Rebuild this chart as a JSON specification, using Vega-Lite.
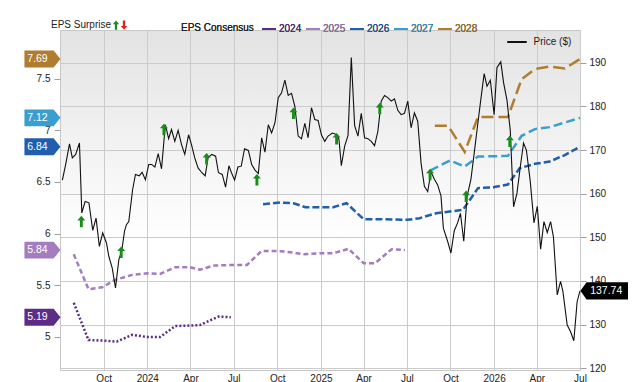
{
  "$schema": "https://vega.github.io/schema/vega-lite/v6.json",
  "width": 520,
  "height": 340,
  "autosize": {"type": "none"},
  "padding": {"left": 60, "top": 30, "right": 60, "bottom": 12},
  "background": "white",
  "config": {
    "font": "Liberation Sans",
    "view": {
      "stroke": "#c8c8c8",
      "strokeWidth": 1,
      "fill": {"gradient": "linear", "x1": 0, "y1": 0, "x2": 0, "y2": 1,
        "stops": [{"offset": 0, "color": "#e3e3e3"}, {"offset": 0.62, "color": "#ffffff"}, {"offset": 1, "color": "#ffffff"}]}
    },
    "axis": {"labelFont": "Liberation Sans", "labelFontSize": 10, "labelColor": "#222222", "title": null},
    "legend": {"labelFont": "Liberation Sans", "titleFont": "Liberation Sans"}
  },
  "datasets": {
    "price": [
      {"date": "2023-07-06", "price": 163.1}, {"date": "2023-07-13", "price": 166.7}, {"date": "2023-07-21", "price": 171.4},
      {"date": "2023-07-27", "price": 168.2}, {"date": "2023-08-03", "price": 169.0}, {"date": "2023-08-11", "price": 171.6},
      {"date": "2023-08-16", "price": 155.6}, {"date": "2023-08-23", "price": 158.2}, {"date": "2023-08-31", "price": 157.9},
      {"date": "2023-09-08", "price": 151.6}, {"date": "2023-09-15", "price": 154.4}, {"date": "2023-09-22", "price": 147.9},
      {"date": "2023-09-29", "price": 151.0}, {"date": "2023-10-07", "price": 148.7}, {"date": "2023-10-12", "price": 145.6},
      {"date": "2023-10-19", "price": 143.0}, {"date": "2023-10-26", "price": 138.4}, {"date": "2023-11-02", "price": 144.9},
      {"date": "2023-11-08", "price": 146.8}, {"date": "2023-11-14", "price": 151.4}, {"date": "2023-11-18", "price": 152.9},
      {"date": "2023-11-23", "price": 153.6}, {"date": "2023-12-01", "price": 160.9}, {"date": "2023-12-07", "price": 164.4},
      {"date": "2023-12-15", "price": 164.1}, {"date": "2023-12-21", "price": 164.9}, {"date": "2023-12-28", "price": 163.2},
      {"date": "2024-01-04", "price": 166.7}, {"date": "2024-01-10", "price": 166.7}, {"date": "2024-01-17", "price": 166.1},
      {"date": "2024-01-24", "price": 169.2}, {"date": "2024-01-31", "price": 165.7}, {"date": "2024-02-08", "price": 175.8},
      {"date": "2024-02-15", "price": 172.6}, {"date": "2024-02-21", "price": 174.7}, {"date": "2024-02-28", "price": 172.0},
      {"date": "2024-03-06", "price": 174.5}, {"date": "2024-03-13", "price": 171.3}, {"date": "2024-03-20", "price": 169.0},
      {"date": "2024-03-28", "price": 173.5}, {"date": "2024-04-03", "price": 171.3}, {"date": "2024-04-10", "price": 168.2},
      {"date": "2024-04-17", "price": 165.9}, {"date": "2024-04-25", "price": 164.8}, {"date": "2024-05-02", "price": 164.1},
      {"date": "2024-05-08", "price": 168.2}, {"date": "2024-05-16", "price": 169.0}, {"date": "2024-05-24", "price": 168.6},
      {"date": "2024-05-30", "price": 164.8}, {"date": "2024-06-07", "price": 164.4}, {"date": "2024-06-14", "price": 161.5},
      {"date": "2024-06-21", "price": 166.4}, {"date": "2024-06-26", "price": 164.9}, {"date": "2024-07-03", "price": 163.1},
      {"date": "2024-07-10", "price": 166.1}, {"date": "2024-07-17", "price": 166.3}, {"date": "2024-07-24", "price": 170.3},
      {"date": "2024-08-01", "price": 169.9}, {"date": "2024-08-08", "price": 166.7}, {"date": "2024-08-15", "price": 165.4},
      {"date": "2024-08-22", "price": 164.6}, {"date": "2024-08-29", "price": 172.8}, {"date": "2024-09-05", "price": 169.5},
      {"date": "2024-09-12", "price": 175.8}, {"date": "2024-09-19", "price": 173.9}, {"date": "2024-09-26", "price": 176.2},
      {"date": "2024-10-03", "price": 182.0}, {"date": "2024-10-10", "price": 183.1}, {"date": "2024-10-17", "price": 186.0},
      {"date": "2024-10-24", "price": 182.5}, {"date": "2024-10-31", "price": 183.0}, {"date": "2024-11-07", "price": 180.0},
      {"date": "2024-11-14", "price": 173.2}, {"date": "2024-11-21", "price": 172.6}, {"date": "2024-11-28", "price": 176.1},
      {"date": "2024-12-05", "price": 172.8}, {"date": "2024-12-12", "price": 179.7}, {"date": "2024-12-19", "price": 177.0},
      {"date": "2024-12-26", "price": 176.8}, {"date": "2025-01-02", "price": 173.5}, {"date": "2025-01-09", "price": 172.0},
      {"date": "2025-01-16", "price": 173.2}, {"date": "2025-01-25", "price": 173.9}, {"date": "2025-02-04", "price": 173.5},
      {"date": "2025-02-08", "price": 172.4}, {"date": "2025-02-13", "price": 166.4}, {"date": "2025-02-20", "price": 170.9},
      {"date": "2025-02-27", "price": 173.3}, {"date": "2025-03-06", "price": 191.2}, {"date": "2025-03-13", "price": 175.6},
      {"date": "2025-03-20", "price": 173.2}, {"date": "2025-03-27", "price": 178.4}, {"date": "2025-04-03", "price": 172.8},
      {"date": "2025-04-10", "price": 172.6}, {"date": "2025-04-17", "price": 172.0}, {"date": "2025-04-24", "price": 171.0},
      {"date": "2025-05-01", "price": 174.3}, {"date": "2025-05-08", "price": 181.2}, {"date": "2025-05-15", "price": 182.5},
      {"date": "2025-05-22", "price": 182.0}, {"date": "2025-05-29", "price": 181.2}, {"date": "2025-06-05", "price": 181.7},
      {"date": "2025-06-12", "price": 179.1}, {"date": "2025-06-19", "price": 178.1}, {"date": "2025-06-26", "price": 178.4},
      {"date": "2025-07-03", "price": 181.2}, {"date": "2025-07-10", "price": 175.1}, {"date": "2025-07-17", "price": 178.5},
      {"date": "2025-07-24", "price": 176.6}, {"date": "2025-07-31", "price": 167.0}, {"date": "2025-08-07", "price": 161.7},
      {"date": "2025-08-14", "price": 160.5}, {"date": "2025-08-21", "price": 165.0}, {"date": "2025-08-28", "price": 163.3},
      {"date": "2025-09-04", "price": 162.0}, {"date": "2025-09-11", "price": 159.5}, {"date": "2025-09-16", "price": 152.1},
      {"date": "2025-09-25", "price": 149.1}, {"date": "2025-10-02", "price": 146.4}, {"date": "2025-10-09", "price": 151.5},
      {"date": "2025-10-16", "price": 153.3}, {"date": "2025-10-22", "price": 155.5}, {"date": "2025-10-29", "price": 149.1},
      {"date": "2025-11-05", "price": 159.4}, {"date": "2025-11-13", "price": 163.2}, {"date": "2025-11-20", "price": 169.3},
      {"date": "2025-11-27", "price": 175.5}, {"date": "2025-12-04", "price": 181.6}, {"date": "2025-12-11", "price": 187.5},
      {"date": "2025-12-17", "price": 184.6}, {"date": "2025-12-24", "price": 186.0}, {"date": "2026-01-01", "price": 178.1},
      {"date": "2026-01-07", "price": 188.9}, {"date": "2026-01-15", "price": 190.2}, {"date": "2026-01-21", "price": 185.4},
      {"date": "2026-01-28", "price": 181.5}, {"date": "2026-02-04", "price": 174.5}, {"date": "2026-02-11", "price": 157.0},
      {"date": "2026-02-18", "price": 160.0}, {"date": "2026-02-25", "price": 166.0}, {"date": "2026-03-04", "price": 171.6},
      {"date": "2026-03-10", "price": 170.0}, {"date": "2026-03-18", "price": 163.0}, {"date": "2026-03-26", "price": 153.3},
      {"date": "2026-04-02", "price": 157.1}, {"date": "2026-04-09", "price": 147.3}, {"date": "2026-04-16", "price": 153.6},
      {"date": "2026-04-23", "price": 151.1}, {"date": "2026-04-30", "price": 153.6}, {"date": "2026-05-06", "price": 150.1},
      {"date": "2026-05-14", "price": 136.8}, {"date": "2026-05-21", "price": 139.9}, {"date": "2026-05-26", "price": 137.6},
      {"date": "2026-06-04", "price": 129.9}, {"date": "2026-06-11", "price": 128.4}, {"date": "2026-06-18", "price": 126.3},
      {"date": "2026-06-25", "price": 135.3}, {"date": "2026-07-01", "price": 137.74}
    ],
    "eps": [
      {"series": "2024", "date": "2023-07-30", "eps": 5.33}, {"series": "2024", "date": "2023-08-30", "eps": 4.97},
      {"series": "2024", "date": "2023-09-28", "eps": 4.965}, {"series": "2024", "date": "2023-10-29", "eps": 4.955},
      {"series": "2024", "date": "2023-11-30", "eps": 5.02}, {"series": "2024", "date": "2023-12-31", "eps": 5.0},
      {"series": "2024", "date": "2024-01-28", "eps": 5.0}, {"series": "2024", "date": "2024-02-29", "eps": 5.105},
      {"series": "2024", "date": "2024-03-31", "eps": 5.11}, {"series": "2024", "date": "2024-04-21", "eps": 5.115},
      {"series": "2024", "date": "2024-05-30", "eps": 5.197}, {"series": "2024", "date": "2024-06-25", "eps": 5.19},
      {"series": "2025", "date": "2023-07-30", "eps": 5.8}, {"series": "2025", "date": "2023-08-30", "eps": 5.462},
      {"series": "2025", "date": "2023-09-28", "eps": 5.48}, {"series": "2025", "date": "2023-10-25", "eps": 5.552},
      {"series": "2025", "date": "2023-11-30", "eps": 5.6}, {"series": "2025", "date": "2023-12-31", "eps": 5.615},
      {"series": "2025", "date": "2024-01-28", "eps": 5.61}, {"series": "2025", "date": "2024-02-29", "eps": 5.675},
      {"series": "2025", "date": "2024-03-31", "eps": 5.675}, {"series": "2025", "date": "2024-04-21", "eps": 5.65},
      {"series": "2025", "date": "2024-05-19", "eps": 5.69}, {"series": "2025", "date": "2024-06-30", "eps": 5.697},
      {"series": "2025", "date": "2024-07-29", "eps": 5.697}, {"series": "2025", "date": "2024-08-29", "eps": 5.833},
      {"series": "2025", "date": "2024-10-07", "eps": 5.83}, {"series": "2025", "date": "2024-10-28", "eps": 5.82},
      {"series": "2025", "date": "2024-11-25", "eps": 5.8}, {"series": "2025", "date": "2024-12-31", "eps": 5.81},
      {"series": "2025", "date": "2025-01-27", "eps": 5.81}, {"series": "2025", "date": "2025-02-28", "eps": 5.852},
      {"series": "2025", "date": "2025-04-01", "eps": 5.713}, {"series": "2025", "date": "2025-04-25", "eps": 5.713},
      {"series": "2025", "date": "2025-05-30", "eps": 5.849}, {"series": "2025", "date": "2025-06-27", "eps": 5.84},
      {"series": "2026", "date": "2024-09-01", "eps": 6.285}, {"series": "2026", "date": "2024-10-07", "eps": 6.3},
      {"series": "2026", "date": "2024-11-04", "eps": 6.294}, {"series": "2026", "date": "2024-11-29", "eps": 6.256},
      {"series": "2026", "date": "2025-01-27", "eps": 6.256}, {"series": "2026", "date": "2025-02-24", "eps": 6.294},
      {"series": "2026", "date": "2025-04-01", "eps": 6.139}, {"series": "2026", "date": "2025-05-05", "eps": 6.139},
      {"series": "2026", "date": "2025-07-02", "eps": 6.133}, {"series": "2026", "date": "2025-07-28", "eps": 6.149},
      {"series": "2026", "date": "2025-09-01", "eps": 6.197}, {"series": "2026", "date": "2025-10-27", "eps": 6.229},
      {"series": "2026", "date": "2025-11-28", "eps": 6.44}, {"series": "2026", "date": "2025-12-30", "eps": 6.449},
      {"series": "2026", "date": "2026-01-30", "eps": 6.475}, {"series": "2026", "date": "2026-02-24", "eps": 6.633},
      {"series": "2026", "date": "2026-03-28", "eps": 6.675}, {"series": "2026", "date": "2026-04-28", "eps": 6.697},
      {"series": "2026", "date": "2026-05-30", "eps": 6.76}, {"series": "2026", "date": "2026-07-01", "eps": 6.84},
      {"series": "2027", "date": "2025-08-19", "eps": 6.61}, {"series": "2027", "date": "2025-09-30", "eps": 6.707},
      {"series": "2027", "date": "2025-10-31", "eps": 6.649}, {"series": "2027", "date": "2025-11-28", "eps": 6.745},
      {"series": "2027", "date": "2026-01-30", "eps": 6.752}, {"series": "2027", "date": "2026-02-28", "eps": 6.946},
      {"series": "2027", "date": "2026-03-28", "eps": 7.011}, {"series": "2027", "date": "2026-04-28", "eps": 7.03},
      {"series": "2027", "date": "2026-05-26", "eps": 7.069}, {"series": "2027", "date": "2026-07-01", "eps": 7.12},
      {"series": "2028", "date": "2025-08-29", "eps": 7.043}, {"series": "2028", "date": "2025-09-26", "eps": 7.043},
      {"series": "2028", "date": "2025-10-31", "eps": 6.79}, {"series": "2028", "date": "2025-11-28", "eps": 7.127},
      {"series": "2028", "date": "2026-01-30", "eps": 7.127}, {"series": "2028", "date": "2026-02-28", "eps": 7.495},
      {"series": "2028", "date": "2026-03-28", "eps": 7.592}, {"series": "2028", "date": "2026-04-28", "eps": 7.617},
      {"series": "2028", "date": "2026-05-30", "eps": 7.597}, {"series": "2028", "date": "2026-07-01", "eps": 7.69}
    ],
    "surprise": [
      {"date": "2023-08-15", "price": 153.6, "type": "up"}, {"date": "2023-11-07", "price": 146.6, "type": "up"},
      {"date": "2024-02-05", "price": 174.7, "type": "up"}, {"date": "2024-05-05", "price": 168.0, "type": "up"},
      {"date": "2024-08-19", "price": 163.2, "type": "up"}, {"date": "2024-11-04", "price": 178.4, "type": "up"},
      {"date": "2025-02-03", "price": 172.6, "type": "up"}, {"date": "2025-05-05", "price": 179.5, "type": "up"},
      {"date": "2025-08-19", "price": 164.4, "type": "up"}, {"date": "2025-11-03", "price": 159.4, "type": "up"},
      {"date": "2026-02-03", "price": 172.0, "type": "up"}
    ],
    "tags": [
      {"series": "2028", "eps": 7.69}, {"series": "2027", "eps": 7.12}, {"series": "2026", "eps": 6.84},
      {"series": "2025", "eps": 5.84}, {"series": "2024", "eps": 5.19}
    ],
    "lastprice": [{"price": 137.74}]
  },
  "layer": [
    {
      "layer": [
        {
          "data": {"name": "eps"},
          "mark": {"type": "line", "strokeWidth": 2.5},
          "encoding": {
            "x": {
              "field": "date", "type": "temporal",
              "scale": {"type": "utc", "domain": [{"year": 2023, "month": 7, "date": 1, "utc": true}, {"year": 2026, "month": 7, "date": 1, "utc": true}]},
              "axis": {
                "values": [
                  {"year": 2023, "month": 10, "date": 1, "utc": true}, {"year": 2024, "month": 1, "date": 1, "utc": true},
                  {"year": 2024, "month": 4, "date": 1, "utc": true}, {"year": 2024, "month": 7, "date": 1, "utc": true},
                  {"year": 2024, "month": 10, "date": 1, "utc": true}, {"year": 2025, "month": 1, "date": 1, "utc": true},
                  {"year": 2025, "month": 4, "date": 1, "utc": true}, {"year": 2025, "month": 7, "date": 1, "utc": true},
                  {"year": 2025, "month": 10, "date": 1, "utc": true}, {"year": 2026, "month": 1, "date": 1, "utc": true},
                  {"year": 2026, "month": 4, "date": 1, "utc": true}, {"year": 2026, "month": 7, "date": 1, "utc": true}
                ],
                "labelExpr": "utcFormat(datum.value, '%m') == '01' ? utcFormat(datum.value, '%Y') : utcFormat(datum.value, '%b')",
                "grid": true, "gridColor": "#cbcbcb", "ticks": false, "domain": false,
                "labelPadding": 3, "labelFlush": false, "labelOverlap": false
              }
            },
            "y": {
              "field": "eps", "type": "quantitative",
              "scale": {"domain": [4.68, 7.97], "nice": false, "zero": false},
              "axis": {"orient": "left", "values": [5, 5.5, 6, 6.5, 7, 7.5], "format": "~g", "grid": false, "domain": false,
                "tickSize": 6, "tickColor": "#a0a0a0", "labelPadding": 4}
            },
            "color": {
              "field": "series", "type": "nominal",
              "scale": {"domain": ["2024", "2025", "2026", "2027", "2028"], "range": ["#5b2d86", "#a47cc0", "#1f5fae", "#3a9fd0", "#b07d30"]},
              "legend": {
                "orient": "none", "legendX": 121, "legendY": -9, "direction": "horizontal",
                "title": "EPS Consensus", "titleOrient": "left", "titleFontSize": 10,
                "titleFontWeight": "normal", "titleColor": "#222222", "titlePadding": 7, "titleBaseline": "middle",
                "labelFontSize": 10, "labelOffset": 2, "columnPadding": 0,
                "symbolType": "stroke", "symbolSize": 196, "symbolStrokeWidth": 2,
                "encode": {"labels": {"update": {"fill": {"signal": "datum.value == '2024' ? '#5b2d86' : datum.value == '2025' ? '#a47cc0' : datum.value == '2026' ? '#1f5fae' : datum.value == '2027' ? '#3a9fd0' : '#b07d30'"}}}}
              }
            },
            "strokeDash": {
              "field": "series", "type": "nominal",
              "scale": {"domain": ["2024", "2025", "2026", "2027", "2028"], "range": [[2, 2], [5, 3], [7, 3], [9, 4], [12, 5]]},
              "legend": {
                "orient": "none", "legendX": 121, "legendY": -9, "direction": "horizontal",
                "title": "EPS Consensus", "titleOrient": "left", "titleFontSize": 10,
                "titleFontWeight": "normal", "titleColor": "#222222", "titlePadding": 7, "titleBaseline": "middle",
                "labelFontSize": 10, "labelOffset": 2, "columnPadding": 0,
                "symbolType": "stroke", "symbolSize": 196, "symbolStrokeWidth": 2
              }
            }
          }
        },
        {
          "data": {"name": "tags"},
          "mark": {"type": "point", "filled": true, "opacity": 1, "size": 1296, "shape": "M-1,-0.47L0.62,-0.47L1,0L0.62,0.47L-1,0.47Z"},
          "encoding": {
            "x": {"datum": {"year": 2023, "month": 5, "date": 25, "utc": true}, "type": "temporal",
              "scale": {"type": "utc", "domain": [{"year": 2023, "month": 7, "date": 1, "utc": true}, {"year": 2026, "month": 7, "date": 1, "utc": true}]}},
            "y": {"field": "eps", "type": "quantitative"},
            "color": {"field": "series", "type": "nominal", "legend": null}
          }
        },
        {
          "data": {"name": "tags"},
          "mark": {"type": "text", "color": "white", "fontSize": 10.5, "align": "center", "baseline": "middle", "dx": -5},
          "encoding": {
            "x": {"datum": {"year": 2023, "month": 5, "date": 25, "utc": true}, "type": "temporal",
              "scale": {"type": "utc", "domain": [{"year": 2023, "month": 7, "date": 1, "utc": true}, {"year": 2026, "month": 7, "date": 1, "utc": true}]}},
            "y": {"field": "eps", "type": "quantitative"},
            "text": {"field": "eps", "type": "quantitative", "format": ".2f"}
          }
        }
      ]
    },
    {
      "layer": [
        {
          "data": {"name": "price"},
          "mark": {"type": "line", "strokeWidth": 1.1},
          "encoding": {
            "x": {
              "field": "date", "type": "temporal",
              "scale": {"type": "utc", "domain": [{"year": 2023, "month": 7, "date": 1, "utc": true}, {"year": 2026, "month": 7, "date": 1, "utc": true}]}
            },
            "y": {
              "field": "price", "type": "quantitative",
              "scale": {"domain": [119.6, 197.5], "nice": false, "zero": false},
              "axis": {"orient": "right", "values": [120, 130, 140, 150, 160, 170, 180, 190], "grid": true, "gridColor": "#cbcbcb",
                "domain": false, "tickSize": 6, "tickColor": "#a0a0a0", "labelPadding": 3}
            },
            "color": {
              "datum": "Price ($)", "type": "nominal",
              "scale": {"range": ["#111111"]},
              "legend": {
                "orient": "none", "legendX": 446, "legendY": 1, "title": null,
                "labelFontSize": 10, "labelColor": "#222222", "labelOffset": 5.5,
                "symbolType": "stroke", "symbolSize": 380, "symbolStrokeWidth": 2,
                "encode": {"symbols": {"update": {"stroke": {"value": "#707070"}}}}
              }
            }
          }
        },
        {
          "data": {"name": "surprise"},
          "mark": {"type": "point", "filled": true, "opacity": 1, "size": 100, "strokeWidth": 0},
          "encoding": {
            "x": {
              "field": "date", "type": "temporal",
              "scale": {"type": "utc", "domain": [{"year": 2023, "month": 7, "date": 1, "utc": true}, {"year": 2026, "month": 7, "date": 1, "utc": true}]}
            },
            "y": {"field": "price", "type": "quantitative"},
            "shape": {
              "field": "type", "type": "nominal",
              "scale": {"domain": ["up", "down"], "range": ["M0,-1.15L0.8,-0.23L0.29,-0.23L0.29,1.15L-0.29,1.15L-0.29,-0.23L-0.8,-0.23Z", "M0,1.15L0.8,0.23L0.29,0.23L0.29,-1.15L-0.29,-1.15L-0.29,0.23L-0.8,0.23Z"]},
              "legend": {
                "orient": "none", "legendX": -9, "legendY": -9, "direction": "horizontal",
                "title": "EPS Surprise", "titleOrient": "left", "titleFontSize": 10,
                "titleFontWeight": "normal", "titleColor": "#222222", "titlePadding": 0, "titleBaseline": "middle",
                "labelExpr": "''", "labelFontSize": 1, "labelOffset": -6, "columnPadding": 0, "symbolSize": 64, "symbolStrokeWidth": 0,
                "encode": {"symbols": {"update": {"fill": {"signal": "datum.value == 'up' ? '#198c19' : '#e32119'"}, "strokeWidth": {"value": 0}, "opacity": {"value": 1}}}}
              }
            },
            "fill": {
              "field": "type", "type": "nominal",
              "scale": {"domain": ["up", "down"], "range": ["#198c19", "#e32119"]},
              "legend": null
            }
          }
        },
        {
          "data": {"name": "lastprice"},
          "mark": {"type": "point", "filled": true, "opacity": 1, "size": 2266, "color": "#000000", "shape": "M-1,0L-0.74,-0.36L1,-0.36L1,0.36L-0.74,0.36Z"},
          "encoding": {
            "x": {"datum": {"year": 2026, "month": 8, "date": 21, "utc": true}, "type": "temporal",
              "scale": {"type": "utc", "domain": [{"year": 2023, "month": 7, "date": 1, "utc": true}, {"year": 2026, "month": 7, "date": 1, "utc": true}]}},
            "y": {"field": "price", "type": "quantitative"}
          }
        },
        {
          "data": {"name": "lastprice"},
          "mark": {"type": "text", "color": "white", "fontSize": 10.5, "align": "center", "baseline": "middle", "dx": 2},
          "encoding": {
            "x": {"datum": {"year": 2026, "month": 8, "date": 21, "utc": true}, "type": "temporal",
              "scale": {"type": "utc", "domain": [{"year": 2023, "month": 7, "date": 1, "utc": true}, {"year": 2026, "month": 7, "date": 1, "utc": true}]}},
            "y": {"field": "price", "type": "quantitative"},
            "text": {"field": "price", "type": "quantitative", "format": ".2f"}
          }
        }
      ]
    }
  ],
  "resolve": {"scale": {"y": "independent", "color": "independent"}}
}
